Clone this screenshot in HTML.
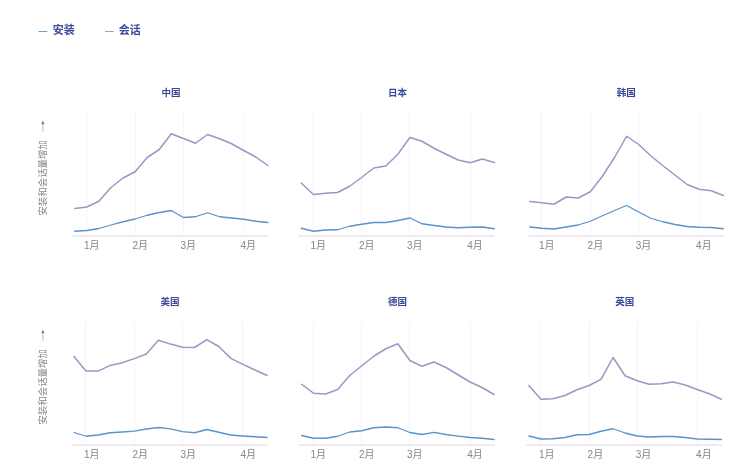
<!DOCTYPE html>
<html lang="zh"><head><meta charset="utf-8"><title>安装和会话量增加</title>
<style>html,body{margin:0;padding:0;background:#fff;font-family:"Liberation Sans","Noto Sans CJK SC",sans-serif;}body{width:752px;height:473px;overflow:hidden;}svg{display:block;}</style></head><body>
<svg width="752" height="473" viewBox="0 0 752 473">
<rect width="752" height="473" fill="#fff"/>
<defs><filter id="soft" x="0" y="0" width="100%" height="100%" filterUnits="userSpaceOnUse" color-interpolation-filters="sRGB"><feGaussianBlur stdDeviation="0.38"/></filter></defs>
<g filter="url(#soft)">
<g id="legend"><path d="M38.6 31.5H47.3" stroke="#4d84b8" stroke-width="0.8" fill="none"/><path d="M105.0 31.5H113.7" stroke="#8683b5" stroke-width="0.8" fill="none"/><text x="52.7" y="34.3" font-size="11" font-weight="bold" fill="#3f4c9c" font-family="'Liberation Sans','Noto Sans CJK SC',sans-serif">安装</text><text x="118.7" y="34.3" font-size="11" font-weight="bold" fill="#3f4c9c" font-family="'Liberation Sans','Noto Sans CJK SC',sans-serif">会话</text></g>
<path id="grid" d="M86.5 112V236.1M135.5 112V236.1M183.5 112V236.1M243.5 112V236.1M313.5 112V236.1M361.5 112V236.1M409.5 112V236.1M470.5 112V236.1M541.5 112V236.1M590.5 112V236.1M638.5 112V236.1M699.5 112V236.1M85.5 320.3V445M134.5 320.3V445M182.5 320.3V445M242.5 320.3V445M313.5 320.3V445M361.5 320.3V445M409.5 320.3V445M470.5 320.3V445M540.5 320.3V445M589.5 320.3V445M637.5 320.3V445M697.5 320.3V445" stroke="#f5f5f9" stroke-width="1" fill="none"/>
<path id="axis" d="M72.25 236.1H268.4M298.8 236.1H494.9M527.3 236.1H723.9M71.4 445H267.6M299.1 445H494.6M526.4 445H721.8" stroke="#e6e6e9" stroke-width="1.5" fill="none"/>
<path id="sessions" d="M74.75 208.5L86.82 207L98.89 201.25L110.97 187.5L123.04 178L135.11 171.75L147.18 157.5L159.25 149.5L171.32 133.75L183.4 138.5L195.47 143.25L207.54 134.5L219.61 138.75L231.68 143.75L243.76 150.5L255.83 157L267.9 165.5M301.3 183L313.37 194.5L325.44 193.25L337.51 192.5L349.57 186.25L361.64 177.5L373.71 168L385.78 166L397.85 154.25L409.92 137.5L421.99 141.25L434.06 148.25L446.12 154.25L458.19 160L470.26 162.75L482.33 159L494.4 162.5M529.8 201.5L541.9 202.75L554 204.25L566.1 197L578.2 198L590.3 191.75L602.4 176.25L614.5 157.5L626.6 136.25L638.7 144.5L650.8 155.75L662.9 165.75L675 175L687.1 184.5L699.2 189.25L711.3 190.75L723.4 195.5M73.9 356.6L85.98 371.1L98.05 371.1L110.12 365.4L122.2 362.8L134.28 358.6L146.35 354L158.43 340.3L170.5 344.1L182.58 347.2L194.65 347.5L206.73 339.6L218.8 346.5L230.88 358.4L242.95 364.4L255.03 370L267.1 375.5M301.6 384.25L313.63 393.25L325.66 394L337.69 389.5L349.73 375.5L361.76 365.75L373.79 356.25L385.82 348.75L397.85 343.75L409.88 360.5L421.91 366.25L433.94 362L445.98 367.5L458.01 374.75L470.04 382L482.07 387.5L494.1 394.5M528.9 385.5L540.92 399.25L552.95 398.75L564.98 395.5L577 389.75L589.02 385.5L601.05 379.4L613.07 357.5L625.1 375.75L637.12 380.75L649.15 384.25L661.17 383.75L673.2 382L685.22 385L697.25 389.5L709.27 393.75L721.3 399.25" stroke="#9a97c5" stroke-width="1.5" fill="none" stroke-linejoin="round" stroke-linecap="round"/>
<path id="installs" d="M74.75 231.25L86.82 230.5L98.89 228.5L110.97 225L123.04 221.75L135.11 219L147.18 215.25L159.25 212.5L171.32 210.5L183.4 217.5L195.47 216.75L207.54 212.75L219.61 216.75L231.68 218L243.76 219.25L255.83 221.25L267.9 222.5M301.3 228.25L313.37 231.25L325.44 230L337.51 229.75L349.57 226.25L361.64 224.25L373.71 222.5L385.78 222.5L397.85 220.5L409.92 218L421.99 223.75L434.06 225.5L446.12 227L458.19 227.75L470.26 227.25L482.33 227L494.4 228.75M529.8 227L541.9 228.25L554 229L566.1 227L578.2 225L590.3 221.25L602.4 215.75L614.5 210.5L626.6 205.5L638.7 212L650.8 218.25L662.9 221.75L675 224.5L687.1 226.5L699.2 227.25L711.3 227.5L723.4 228.75M73.9 432.5L85.98 436.25L98.05 435L110.12 432.75L122.2 432L134.28 431.1L146.35 429L158.43 427.5L170.5 428.9L182.58 431.6L194.65 432.75L206.73 429.5L218.8 432.25L230.88 435L242.95 436L255.03 436.75L267.1 437.5M301.6 435.5L313.63 438.25L325.66 438.25L337.69 436.25L349.73 432L361.76 430.75L373.79 427.75L385.82 427L397.85 427.75L409.88 432.5L421.91 434.5L433.94 432.4L445.98 434.5L458.01 436.1L470.04 437.5L482.07 438.25L494.1 439.5M528.9 436L540.92 439L552.95 438.75L564.98 437.5L577 434.75L589.02 434.5L601.05 431.25L613.07 428.75L625.1 433L637.12 436L649.15 437L661.17 436.5L673.2 436.5L685.22 437.5L697.25 439L709.27 439.25L721.3 439.5" stroke="#5893c9" stroke-width="1.3" fill="none" stroke-linejoin="round" stroke-linecap="round"/>
<g id="arrows"><path d="M42.9 123.1V131.8" stroke="#8d8d92" stroke-width="0.6" fill="none"/><path d="M42.9 120.6l1.55 3.6h-3.1z" fill="#77777c"/><path d="M42.9 332.1V340.8" stroke="#8d8d92" stroke-width="0.6" fill="none"/><path d="M42.9 329.6l1.55 3.6h-3.1z" fill="#77777c"/></g>
<g id="titles" fill="#394596" stroke="none" font-family="'Liberation Sans','Noto Sans CJK SC',sans-serif" font-size="9.5" font-weight="bold" text-anchor="middle"><text x="170.92" y="95.8">中国</text><text x="397.45" y="95.8">日本</text><text x="626.2" y="95.8">韩国</text><text x="170.1" y="304.8">美国</text><text x="397.45" y="304.8">德国</text><text x="624.7" y="304.8">英国</text></g>
<g id="ticks" fill="#85858a" stroke="none" font-family="'Liberation Sans','Noto Sans CJK SC',sans-serif" font-size="10"><text x="83.92" y="248.6">1月</text><text x="132.38" y="248.6">2月</text><text x="180.44" y="248.6">3月</text><text x="240.57" y="248.6">4月</text><text x="310.56" y="248.6">1月</text><text x="359.01" y="248.6">2月</text><text x="407.06" y="248.6">3月</text><text x="467.17" y="248.6">4月</text><text x="539" y="248.6">1月</text><text x="587.6" y="248.6">2月</text><text x="635.8" y="248.6">3月</text><text x="696.1" y="248.6">4月</text><text x="83.92" y="457.6">1月</text><text x="132.38" y="457.6">2月</text><text x="180.44" y="457.6">3月</text><text x="240.57" y="457.6">4月</text><text x="310.56" y="457.6">1月</text><text x="359.01" y="457.6">2月</text><text x="407.06" y="457.6">3月</text><text x="467.17" y="457.6">4月</text><text x="539" y="457.6">1月</text><text x="587.6" y="457.6">2月</text><text x="635.8" y="457.6">3月</text><text x="696.1" y="457.6">4月</text></g>
<g id="ylabels" fill="#85858a" stroke="none" font-family="'Liberation Sans','Noto Sans CJK SC',sans-serif" font-size="9.45"><text transform="translate(46.3 215.6) rotate(-90)">安装和会话量增加</text><text transform="translate(46.3 424.6) rotate(-90)">安装和会话量增加</text></g>
</g>
</svg></body></html>
